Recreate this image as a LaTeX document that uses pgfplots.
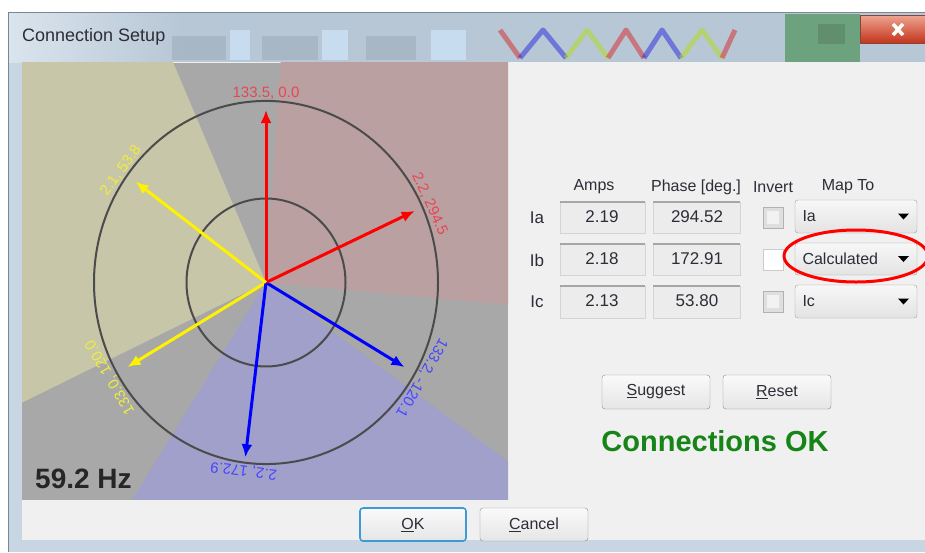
\documentclass[border=0pt]{standalone}
\usepackage{fontspec}
\setmainfont{Liberation Sans}
\usepackage{pgfplots}
\pgfplotsset{compat=1.18}
\usetikzlibrary{arrows.meta}
\newcommand{\fs}[1]{\fontsize{#1}{#1}\selectfont}
\definecolor{panelgray}{RGB}{168,168,168}
\definecolor{wyellow}{RGB}{200,198,168}
\definecolor{wpink}{RGB}{186,160,160}
\definecolor{wblue}{RGB}{160,160,202}
\definecolor{client}{RGB}{240,240,240}
\definecolor{framec}{RGB}{200,214,227}
\definecolor{framedark}{RGB}{120,135,150}
\definecolor{tbar}{RGB}{184,199,214}
\definecolor{tbarlight}{RGB}{218,228,237}
\definecolor{tbardark}{RGB}{150,164,178}
\definecolor{tblue}{RGB}{200,220,240}
\definecolor{tgreen}{RGB}{108,162,126}
\definecolor{tgreendark}{RGB}{92,130,104}
\definecolor{txt}{RGB}{45,45,55}
\definecolor{okgreen}{RGB}{22,132,22}
\definecolor{circc}{RGB}{75,75,75}
\definecolor{lred}{RGB}{232,70,85}
\definecolor{lyel}{RGB}{238,238,60}
\definecolor{lblue}{RGB}{70,70,255}
\definecolor{boxfill}{RGB}{236,236,236}
\definecolor{boxline}{RGB}{212,212,212}
\definecolor{btnline}{RGB}{140,140,140}
\definecolor{okblue}{RGB}{60,155,215}
\tikzset{
  inbox/.style={fill=boxfill, draw=boxline},
  topline/.style={gray!70, line width=1.2pt},
  ddown/.style={top color=gray!6, bottom color=gray!22, draw=gray!75, rounded corners=3pt},
  btn/.style={top color=gray!4, bottom color=gray!20, draw=btnline, rounded corners=3pt},
  lbl/.style={anchor=south, inner sep=1.5pt, font=\fs{15}}
}
\begin{document}
\begin{tikzpicture}
\useasboundingbox (0,0) rectangle (925pt,552pt);
% ---------------- dialog chrome (pixel coordinates) ----------------
\begin{axis}[at={(0pt,0pt)}, anchor=south west, scale only axis,
  width=925pt, height=552pt, xmin=0, xmax=925, ymin=0, ymax=552,
  y dir=reverse, hide axis, clip=false]
\addplot[draw=none] coordinates {(0,0)};
\fill[white] (0,0) rectangle (925,552);
\fill[framec] (8,12) rectangle (925,552);
\draw[framedark, line width=1.5pt] (8.5,552) -- (8.5,12.5) -- (925,12.5);
% title bar
\fill[tbar] (9,13) rectangle (925,62);
\shade[left color=tbarlight, right color=tbar] (9,13) rectangle (180,62);
\fill[tbardark, opacity=0.45] (172,36) rectangle (226,60);
\fill[tbardark, opacity=0.45] (262,36) rectangle (318,60);
\fill[tbardark, opacity=0.45] (366,36) rectangle (416,60);
\fill[tblue] (230,30) rectangle (250,60);
\fill[tblue] (322,30) rectangle (348,60);
\fill[tblue] (431,30) rectangle (466,60);
\draw[red!70!gray, line width=5pt, opacity=0.5, line join=round] (500,30) -- (520,58);
\draw[blue!70!gray, line width=5pt, opacity=0.5, line join=round] (520,58) -- (543,30) -- (566,58);
\draw[yellow!70!green, line width=5pt, opacity=0.5, line join=round] (566,58) -- (587,30) -- (608,58);
\draw[red!70!gray, line width=5pt, opacity=0.5, line join=round] (608,58) -- (626,30) -- (644,58);
\draw[blue!70!gray, line width=5pt, opacity=0.5, line join=round] (644,58) -- (662,30) -- (681,58);
\draw[yellow!70!green, line width=5pt, opacity=0.5, line join=round] (681,58) -- (702,30) -- (722,58);
\draw[red!70!gray, line width=5pt, opacity=0.5, line join=round] (722,58) -- (735,30);
\fill[tgreen] (785,14) rectangle (860,62);
\fill[tgreendark, opacity=0.6] (818,24) rectangle (845,44);
\shade[top color={rgb,255:red,238;green,165;blue,145}, bottom color={rgb,255:red,196;green,52;blue,28}, draw={rgb,255:red,130;green,70;blue,60}] (860,15) rectangle (925,43);
\draw[white, line width=3.5pt] (893,24) -- (903,35) (903,24) -- (893,35);
\node[anchor=west, font=\fs{18}, text=txt, inner sep=0pt] at (22,37) {Connection Setup};
% client area
\fill[client] (22,62) rectangle (925,540);
\fill[panelgray] (22,63) rectangle (508,500);
% table headers
\node[font=\fs{16}, text=txt] at (594,187) {Amps};
\node[font=\fs{16}, text=txt] at (696,187) {Phase [deg.]};
\node[font=\fs{16}, text=txt] at (773,187) {Invert};
\node[font=\fs{16}, text=txt] at (848,187) {Map To};
% row labels
\node[font=\fs{17}, text=txt] at (537,218) {Ia};
\node[font=\fs{17}, text=txt] at (537,260) {Ib};
\node[font=\fs{17}, text=txt] at (537,302) {Ic};
% input boxes
\path[inbox] (560,202) rectangle (645,233);
\draw[topline] (560,202) -- (645,202);
\path[inbox] (653,202) rectangle (740,233);
\draw[topline] (653,202) -- (740,202);
\path[inbox] (560,244) rectangle (645,275);
\draw[topline] (560,244) -- (645,244);
\path[inbox] (653,244) rectangle (740,275);
\draw[topline] (653,244) -- (740,244);
\path[inbox] (560,286) rectangle (645,318);
\draw[topline] (560,286) -- (645,286);
\path[inbox] (653,286) rectangle (740,318);
\draw[topline] (653,286) -- (740,286);
\node[font=\fs{17}, text=txt] at (602,217) {2.19};
\node[font=\fs{17}, text=txt] at (697,217) {294.52};
\node[font=\fs{17}, text=txt] at (602,259) {2.18};
\node[font=\fs{17}, text=txt] at (697,259) {172.91};
\node[font=\fs{17}, text=txt] at (602,301) {2.13};
\node[font=\fs{17}, text=txt] at (697,301) {53.80};
% checkboxes
\path[fill=gray!25, draw=gray!60] (763,207) rectangle (783,228);
\fill[gray!10] (767,211) rectangle (779,224);
\path[fill=white, draw=gray!40] (763,249) rectangle (783,270);
\path[fill=gray!25, draw=gray!60] (763,291) rectangle (783,312);
\fill[gray!10] (767,295) rectangle (779,308);
% dropdowns
\shade[ddown] (795,200) rectangle (917,233);
\node[anchor=west, font=\fs{16}, text=txt] at (799,216.5) {Ia};
\fill[black] (898,213.5) -- (909,213.5) -- (903.5,219.5) -- cycle;
\shade[ddown] (795,243) rectangle (917,275);
\node[anchor=west, font=\fs{16}, text=txt] at (799,259) {Calculated};
\fill[black] (898,256) -- (909,256) -- (903.5,262) -- cycle;
\shade[ddown] (795,285) rectangle (917,318);
\node[anchor=west, font=\fs{16}, text=txt] at (799,301.5) {Ic};
\fill[black] (898,298.5) -- (909,298.5) -- (903.5,304.5) -- cycle;
\draw[red, line width=3pt] (856,256) ellipse [x radius=72pt, y radius=26pt];
% buttons
\shade[btn] (602,375) rectangle (710,409);
\node[font=\fs{16}, text=txt] at (656,392) {\underline{S}uggest};
\shade[btn] (723,375) rectangle (831,409);
\node[font=\fs{16}, text=txt] at (777,392) {\underline{R}eset};
\node[font=\bfseries\fs{29}, text=okgreen] at (715,441) {Connections OK};
\shade[btn, draw=okblue, line width=1.6pt] (360,508) rectangle (466,541);
\node[font=\fs{16}, text=txt] at (413,525) {\underline{O}K};
\shade[btn] (480,508) rectangle (588,541);
\node[font=\fs{16}, text=txt] at (534,525) {\underline{C}ancel};
\end{axis}
% ---------------- phasor diagram ----------------
\begin{axis}[at={(22pt,52pt)}, anchor=south west, scale only axis,
  width=486pt, height=437pt,
  xmin=-1.4186, xmax=1.407, ymin=-1.198, ymax=1.209, hide axis]
% zones (apex at the origin)
\addplot[fill=wpink, draw=none] coordinates {(0,0) (2.9886,-0.2615) (2.2981,1.9284) (0.2093,2.9927)};
\addplot[fill=wyellow, draw=none] coordinates {(0,0) (-1.2202,2.7406) (-2.8191,1.0261) (-2.7189,-1.2679)};
\addplot[fill=wblue, draw=none] coordinates {(0,0) (-1.6339,-2.5161) (0.5209,-2.9544) (2.4575,-1.7207)};
% scale circles
\draw[circc, line width=2pt] (0,0) ellipse [x radius=172pt, y radius=181.55pt];
\draw[circc, line width=2pt] (0,0) ellipse [x radius=79.5pt, y radius=84pt];
% phasors: voltages
\addplot[red, line width=3pt, -{Latex[length=13pt,width=11pt]}] coordinates {(0,0) (0,0.95)};
\addplot[blue, line width=3pt, -{Latex[length=13pt,width=11pt]}] coordinates {(0,0) (0.805,-0.466)};
\addplot[yellow, line width=3pt, -{Latex[length=13pt,width=11pt]}] coordinates {(0,0) (-0.805,-0.465)};
% phasors: currents
\addplot[red, line width=3pt, -{Latex[length=13pt,width=11pt]}] coordinates {(0,0) (0.8645,0.394)};
\addplot[blue, line width=3pt, -{Latex[length=13pt,width=11pt]}] coordinates {(0,0) (-0.120,-0.9625)};
\addplot[yellow, line width=3pt, -{Latex[length=13pt,width=11pt]}] coordinates {(0,0) (-0.7586,0.5552)};
% labels
\node[lbl, text=lred, rotate=0] at (0,1.0) {133.5, 0.0};
\node[lbl, text=lred, rotate=-65.5] at (0.910,0.4147) {2.2, 294.5};
\node[lbl, text=lyel, rotate=53.8] at (-0.807,0.5906) {2.1, 53.8};
\node[lbl, text=lyel, rotate=120] at (-0.866,-0.5) {133.0, 120.0};
\node[lbl, text=lblue, rotate=172.9] at (-0.1236,-0.9923) {2.2, 172.9};
\node[lbl, text=lblue, rotate=-120.1] at (0.8652,-0.5015) {133.2, -120.1};
\node[anchor=west, inner sep=0pt, font=\bfseries\fs{28}, text=black!85] at (-1.343,-1.08) {59.2 Hz};
\end{axis}
\end{tikzpicture}
\end{document}
